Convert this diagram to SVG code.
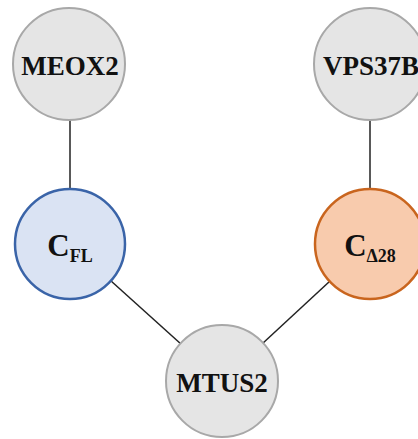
<svg xmlns="http://www.w3.org/2000/svg" width="418" height="439" viewBox="0 0 418 439">
<style>
.edge{stroke:#222;stroke-width:1.5;fill:none}
.gray{fill:#e5e5e5;stroke:#a8a8a8;stroke-width:2}
.blue{fill:#dae3f3;stroke:#3a64a8;stroke-width:2.5}
.orange{fill:#f8cbad;stroke:#c9651e;stroke-width:2.5}
text{font-family:"Liberation Serif","Times New Roman",serif;font-weight:bold;fill:#111;text-anchor:middle}
.lbl{font-size:27px}
.big{font-size:31px}
.sub{font-size:18px}
</style>
<rect width="418" height="439" fill="#fff"/>
<g id="connectors">
<line class="edge" x1="70" y1="64" x2="70" y2="244"/>
<line class="edge" x1="370" y1="64" x2="370" y2="244"/>
<line class="edge" x1="70" y1="244" x2="222" y2="381"/>
<line class="edge" x1="370" y1="244" x2="222" y2="381"/>
</g>
<g id="MEOX2"><circle class="gray" cx="69" cy="64" r="56"/><text class="lbl" x="70" y="75">MEOX2</text></g>
<g id="VPS37B"><circle class="gray" cx="370" cy="64" r="56"/><text class="lbl" x="371" y="75">VPS37B</text></g>
<g id="CFL"><circle class="blue" cx="70" cy="244" r="55"/><text x="70" y="256"><tspan class="big">C</tspan><tspan class="sub" dy="6">FL</tspan></text></g>
<g id="CD28"><circle class="orange" cx="370" cy="244" r="55"/><text x="370" y="256"><tspan class="big">C</tspan><tspan class="sub" dy="6">Δ28</tspan></text></g>
<g id="MTUS2"><circle class="gray" cx="222" cy="381" r="56"/><text class="lbl" x="222" y="392">MTUS2</text></g>
</svg>
